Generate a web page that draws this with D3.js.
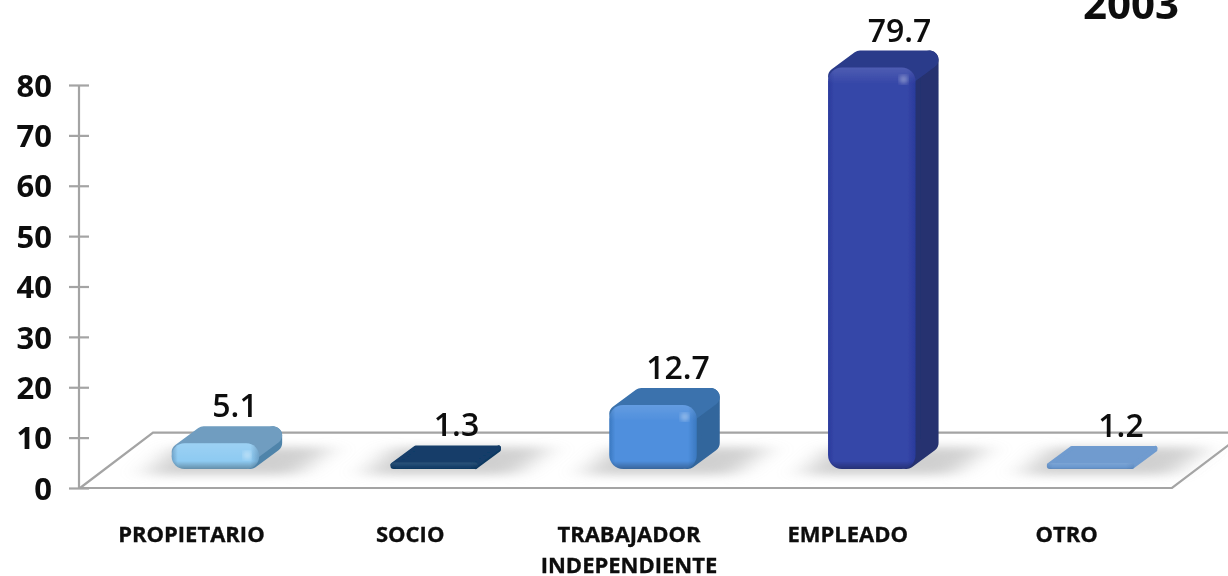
<!DOCTYPE html>
<html>
<head>
<meta charset="utf-8">
<script src="https://cdn.jsdelivr.net/npm/d3@7"></script>
<style>
html, body { margin: 0; padding: 0; background: #fff; overflow: hidden; }
text { font-family: "Open Sans", "Noto Sans", sans-serif; fill: #0a0a0a; }
</style>
</head>
<body>
<div id="chart"></div>
<script>
const categories = ['PROPIETARIO', 'SOCIO', 'TRABAJADOR|INDEPENDIENTE', 'EMPLEADO', 'OTRO'];
const values = [5.1, 1.3, 12.7, 79.7, 1.2];
const yTicks = [0, 10, 20, 30, 40, 50, 60, 70, 80];
const yearLabel = '2003';

const frontColors = ['#8fcbf2', '#123e69', '#4f8fdd', '#3647a8', '#6a98cf'];
const edgeColors = ['#6a9fc6', '#0f3860', '#3a78c0', '#2a3a9c', '#5f8dc4'];
const topColors = ['#6f9dc0', '#123e69', '#3a72ad', '#2b3b8a', '#6f9bcf'];
const sideColors = ['#4f84aa', '#0f3860', '#33669c', '#25326f', '#6f9bcf'];

const width = 1228, height = 576;
const depthX = 23, depthY = -17;   // bar extrusion
const floorInset = 19;             // bars stand this far up the floor
const barShift = 24;               // and this far to the right of their label

const svg = d3.select('#chart').append('svg')
    .attr('width', width)
    .attr('height', height)
    .style('display', 'block');
const defs = svg.append('defs');

const yScale = d3.scaleLinear().domain([0, 80]).range([488, 85]);
const xScale = d3.scaleBand().domain(categories).range([82, 1176]).paddingInner(0.6).paddingOuter(0.3);
const valueX = d3.scalePoint().domain(categories).range([235, 1121]);

// soft look of the picture
defs.append('filter').attr('id', 'soft').append('feGaussianBlur').attr('stdDeviation', 0.45);
const shadowBlur = defs.append('filter').attr('id', 'shadow')
    .attr('x', '-40%').attr('y', '-60%').attr('width', '180%').attr('height', '220%');
shadowBlur.append('feGaussianBlur').attr('stdDeviation', '14 5');

const plot = svg.append('g').attr('filter', 'url(#soft)');

// floor
const floorBack = yScale(11);
const floorPath = d3.path();
floorPath.moveTo(80, yScale(0));
floorPath.lineTo(153, floorBack);
floorPath.lineTo(1245, floorBack);
floorPath.lineTo(1172, yScale(0));
floorPath.closePath();
plot.append('path')
    .attr('d', floorPath.toString())
    .attr('fill', '#fff')
    .attr('stroke', '#a4a4a4')
    .attr('stroke-width', 2.2);

// y axis
const yAxis = d3.axisLeft(yScale).tickValues(yTicks).tickSize(10).tickPadding(17);
const axisG = plot.append('g').attr('transform', 'translate(79,0)').call(yAxis);
axisG.select('.domain').attr('stroke', '#a4a4a4').attr('stroke-width', 2.2).attr('d', `M0,${yScale(80)}V${yScale(0)}`);
axisG.selectAll('.tick line').attr('stroke', '#a4a4a4').attr('stroke-width', 2.2).attr('x1', -10).attr('x2', 10);
axisG.selectAll('.tick text')
    .attr('font-size', 31)
    .attr('font-weight', 700)
    .attr('dy', '0.36em')
    .style('font-family', '"Open Sans", sans-serif')
    .attr('fill', '#0a0a0a');

// gradients per bar
categories.forEach(function(c, i){
    const gh = defs.append('linearGradient').attr('id', 'front_h_' + i);
    gh.append('stop').attr('offset', 0).attr('stop-color', edgeColors[i]);
    gh.append('stop').attr('offset', 0.07).attr('stop-color', frontColors[i]);
    gh.append('stop').attr('offset', 0.9).attr('stop-color', frontColors[i]);
    gh.append('stop').attr('offset', 1).attr('stop-color', edgeColors[i]);

    // the light and dark bands keep a fixed size whatever the bar height is
    const h = yScale(0) - yScale(values[i]);
    const band = Math.min(8 / h, 0.35);
    const gv = defs.append('linearGradient').attr('id', 'front_v_' + i)
        .attr('x1', 0).attr('x2', 0).attr('y1', 0).attr('y2', 1);
    gv.append('stop').attr('offset', 0).attr('stop-color', '#fff').attr('stop-opacity', 0.12);
    gv.append('stop').attr('offset', band * 2).attr('stop-color', '#fff').attr('stop-opacity', 0);
    gv.append('stop').attr('offset', 1 - band).attr('stop-color', '#000').attr('stop-opacity', 0);
    gv.append('stop').attr('offset', 1).attr('stop-color', '#000').attr('stop-opacity', h > 15 ? 0.3 : 0.1);
});
defs.append('filter').attr('id', 'glow').append('feGaussianBlur').attr('stdDeviation', 2.5);

function polyPath(points){
    const p = d3.path();
    points.forEach(function(pt, k){
        if(k == 0) p.moveTo(pt[0], pt[1]); else p.lineTo(pt[0], pt[1]);
    });
    p.closePath();
    return p.toString();
}

const barG = plot.selectAll('.bar')
    .data(values)
    .enter()
    .append('g')
    .attr('class', 'bar');

// shadows first, they lie on the floor behind everything
barG.each(function(d, i){
    const x0 = xScale(categories[i]) + barShift;
    const bw = xScale.bandwidth();
    const base = yScale(0) - floorInset;
    d3.select(this).append('path')
        .attr('d', polyPath([[x0 - 26, base + 6], [x0 + 4, base - 22], [x0 + bw + 72, base - 22], [x0 + bw + 36, base + 6]]))
        .attr('fill', '#b4b4b4')
        .attr('opacity', 0.62)
        .attr('filter', 'url(#shadow)');
});

barG.each(function(d, i){
    const g = d3.select(this);
    const x0 = xScale(categories[i]) + barShift;
    const bw = xScale.bandwidth();
    const x1 = x0 + bw;
    const base = yScale(0) - floorInset;
    const top = yScale(d) - floorInset;
    const h = base - top;
    const r = Math.min(h / 2, 14);
    const j = Math.min(r * 0.7, 9);   // rounding of the extruded faces

    // side face
    g.append('path')
        .attr('d', polyPath([[x1 - j, top + j], [x1 + depthX - j, top + depthY + j], [x1 + depthX - j, base + depthY - j], [x1 - j, base - j]]))
        .attr('fill', sideColors[i])
        .attr('stroke', sideColors[i])
        .attr('stroke-width', j * 2)
        .attr('stroke-linejoin', 'round');
    // top face
    g.append('path')
        .attr('d', polyPath([[x0 + j, top + j], [x0 + depthX + j, top + depthY + j], [x1 + depthX - j, top + depthY + j], [x1 - j, top + j]]))
        .attr('fill', topColors[i])
        .attr('stroke', topColors[i])
        .attr('stroke-width', j * 2)
        .attr('stroke-linejoin', 'round');
    // front face
    g.append('rect')
        .attr('x', x0).attr('y', top)
        .attr('width', bw).attr('height', h)
        .attr('rx', r).attr('ry', r)
        .attr('fill', 'url(#front_h_' + i + ')');
    g.append('rect')
        .attr('x', x0).attr('y', top)
        .attr('width', bw).attr('height', h)
        .attr('rx', r).attr('ry', r)
        .attr('fill', 'url(#front_v_' + i + ')');
    // highlight on the upper right corner
    if(h > 15){
        g.append('circle')
            .attr('cx', x1 - 12).attr('cy', top + 12)
            .attr('r', 4)
            .attr('fill', '#fff')
            .attr('opacity', 0.4)
            .attr('filter', 'url(#glow)');
    }
});

// value labels
plot.selectAll('.value_label')
    .data(values)
    .enter()
    .append('text')
    .attr('class', 'value_label')
    .attr('text-anchor', 'middle')
    .attr('font-size', 32)
    .attr('font-weight', 650)
    .attr('x', function(d, i){ return valueX(categories[i]); })
    .attr('y', function(d){ return yScale(d) - floorInset + depthY - 9; })
    .text(function(d){ return d.toFixed(1); });

// category labels
const catLabels = plot.selectAll('.cat_label')
    .data(categories)
    .enter()
    .append('text')
    .attr('class', 'cat_label')
    .attr('text-anchor', 'middle')
    .attr('font-size', 22)
    .attr('font-weight', 700)
    .attr('stroke', '#0a0a0a')
    .attr('stroke-width', 0.3)
    .attr('y', 542);
catLabels.each(function(d){
    const x = xScale(d) + xScale.bandwidth() / 2;
    d3.select(this).selectAll('tspan')
        .data(d.split('|'))
        .enter()
        .append('tspan')
        .attr('x', x)
        .attr('dy', function(t, k){ return k == 0 ? 0 : 31; })
        .text(function(t){ return t; });
});

// year
plot.append('text')
    .attr('x', 1131)
    .attr('y', 19)
    .attr('text-anchor', 'middle')
    .attr('font-size', 42)
    .attr('font-weight', 700)
    .text(yearLabel);
</script>
</body>
</html>
